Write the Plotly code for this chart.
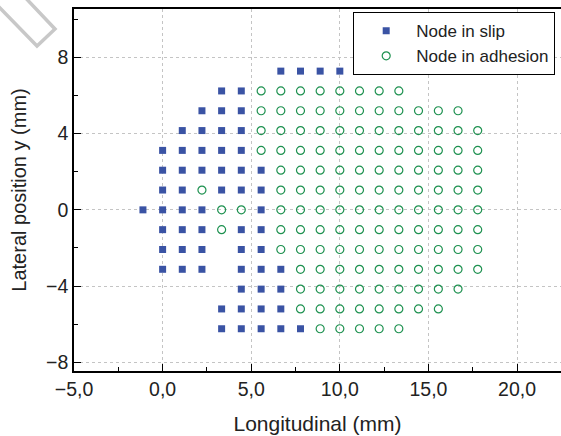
import plotly.graph_objects as go

# Node grid coordinates (mm)
col_x = [-1.11, 0.0, 1.11, 2.22, 3.33, 4.44, 5.56, 6.67, 7.78, 8.89,
         10.0, 11.11, 12.22, 13.33, 14.44, 15.56, 16.67, 17.78]
row_y = [7.28, 6.24, 5.2, 4.16, 3.12, 2.08, 1.04, 0.0,
         -1.04, -2.08, -3.12, -4.16, -5.2, -6.24]

# Contact state per node: S = slip, A = adhesion, . = outside contact patch
row_state = [
    ".......SSSS.......",
    "....SSAAAAAAAA....",
    "...SSSAAAAAAAAAAA.",
    "..SSSSAAAAAAAAAAAA",
    ".SSSSSAAAAAAAAAAAA",
    ".SSSSSSAAAAAAAAAAA",
    ".SSASSSAAAAAAAAAAA",
    "SSSSAASAAAAAAAAAAA",
    ".SSSASSAAAAAAAAAAA",
    ".SSS.SSAAAAAAAAAAA",
    ".SSS.SSSAAAAAAAAAA",
    ".....SSSAAAAAAAAA.",
    "....SSSSAAAAAAAA..",
    "....SSSSSAAAAA....",
]

x_ticks = [-5, 0, 5, 10, 15, 20]
x_tick_text = ["\u22125,0", "0,0", "5,0", "10,0", "15,0", "20,0"]
y_ticks = [-8, -4, 0, 4, 8]
y_tick_text = ["\u22128", "\u22124", "0", "4", "8"]

slip_x, slip_y, adh_x, adh_y = [], [], [], []
for y, states in zip(row_y, row_state):
    for x, s in zip(col_x, states):
        if s == "S":
            slip_x.append(x)
            slip_y.append(y)
        elif s == "A":
            adh_x.append(x)
            adh_y.append(y)

BLUE = "#3a53a4"
GREEN = "#1e9150"
FONT = "Liberation Sans, Arial, sans-serif"

fig = go.Figure()
fig.add_trace(go.Scatter(
    x=slip_x, y=slip_y, mode="markers", name="Node in slip",
    marker=dict(symbol="square", size=7, color=BLUE, line=dict(width=0)),
))
fig.add_trace(go.Scatter(
    x=adh_x, y=adh_y, mode="markers", name="Node in adhesion",
    marker=dict(symbol="circle-open", size=8, color=GREEN, line=dict(width=1.2, color=GREEN)),
))

grid = dict(showgrid=True, gridcolor="#c4c4c4", gridwidth=1, griddash="3px,3px")

fig.update_xaxes(
    range=[-5, 22.48], tickvals=x_ticks, ticktext=x_tick_text,
    ticks="inside", ticklen=7, tickwidth=1.2, tickcolor="black",
    minor=dict(dtick=2.5, tick0=-5, ticks="inside", ticklen=4, tickcolor="black", showgrid=False),
    showline=True, linecolor="black", linewidth=1.6, mirror=True,
    zeroline=False,
    tickfont=dict(family=FONT, size=19.5, color="#222"),
    title=dict(text="Longitudinal (mm)", font=dict(family=FONT, size=21, color="#222"), standoff=17),
    **grid,
)
fig.update_yaxes(
    range=[-8.457, 10.54], tickvals=y_ticks, ticktext=y_tick_text,
    ticks="inside", ticklen=7, tickwidth=1.2, tickcolor="black",
    minor=dict(dtick=2, tick0=-8, ticks="inside", ticklen=4, tickcolor="black", showgrid=False),
    showline=True, linecolor="black", linewidth=1.6,
    zeroline=False,
    tickfont=dict(family=FONT, size=19.5, color="#222"),
    title=dict(text="Lateral position y (mm)", font=dict(family=FONT, size=20, color="#222"), standoff=14),
    **grid,
)

# Light grey corner mark in the top-left of the page
def px(xp, yp):
    return (xp - 74) / 487, (371 - yp) / 362

p = [px(20, -8), px(55, 29), px(37, 46), px(-5, 3)]
path = "M {},{} L {},{} L {},{} L {},{}".format(*[v for pt in p for v in pt])
fig.add_shape(type="path", xref="paper", yref="paper", path=path,
              line=dict(color="#c8c8c8", width=3.5))

fig.update_layout(
    width=561, height=436,
    margin=dict(l=74, r=0, t=9, b=65),
    paper_bgcolor="white", plot_bgcolor="white",
    showlegend=True,
    legend=dict(
        x=(353 - 74) / 487, y=(371 - 12) / 362, xanchor="left", yanchor="top",
        bgcolor="white", bordercolor="black", borderwidth=1.2,
        font=dict(family=FONT, size=17, color="#222"),
        itemwidth=50, indentation=2, tracegroupgap=0,
    ),
)

fig.write_html("out.html")
